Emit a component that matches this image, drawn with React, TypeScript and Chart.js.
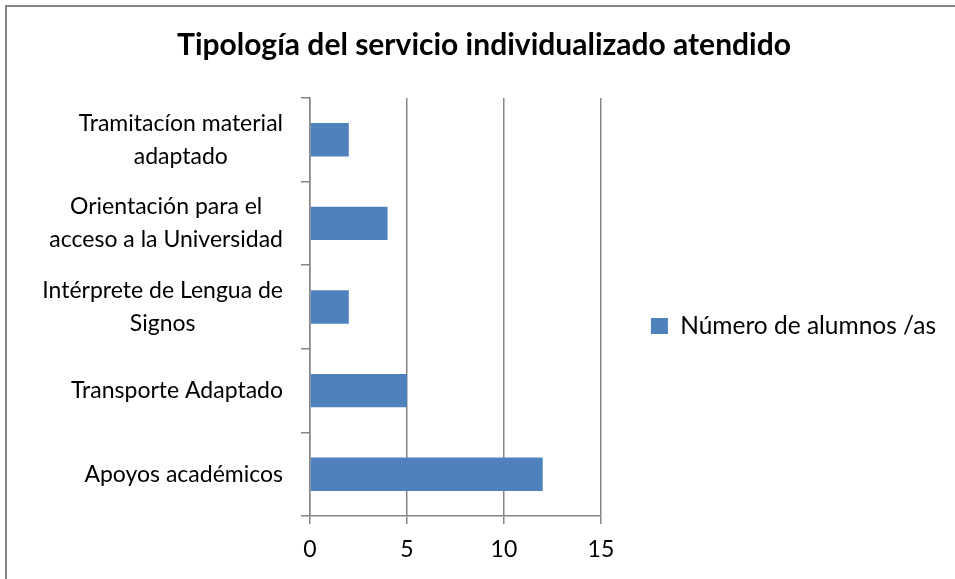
import React, { useEffect, useRef } from 'react';
import { Chart, registerables } from 'chart.js';

Chart.register(...registerables);

const chartTitle = 'Tipología del servicio individualizado atendido';
const seriesName = 'Número de alumnos /as';
const categories: string[][] = [
  ['Tramitacíon material', 'adaptado'],
  ['Orientación para el', 'acceso a la Universidad'],
  ['Intérprete de Lengua de', 'Signos'],
  ['Transporte Adaptado'],
  ['Apoyos académicos'],
];
const values: number[] = [2, 4, 2, 5, 12];
const xMin = 0;
const xMax = 15;
const xStep = 5;

const FONT = 'Lato';
const LABEL_SIZE = 23;
const LEGEND_SIZE = 24.5;
const LINE_H = 33;
const GRID = '#868686';
const PAD_RIGHT = 9;
const PAD_LEFT = 13 + PAD_RIGHT;

const yLabelPlugin = {
  id: 'yLabelsCentered',
  afterDraw(chart: any) {
    const s = chart.scales.y;
    const ctx = chart.ctx;
    ctx.save();
    ctx.font = `${LABEL_SIZE}px ${FONT}`;
    ctx.fillStyle = '#000';
    ctx.textBaseline = 'middle';
    ctx.textAlign = 'center';
    const right = s.right - 27;
    const labels = chart.data.labels as string[][];
    labels.forEach((lines, i) => {
      const w = Math.max(...lines.map((l) => ctx.measureText(l).width));
      const cx = right - w / 2;
      const cy = s.getPixelForTick(i);
      lines.forEach((l, j) => {
        ctx.fillText(l, cx, cy + (j - (lines.length - 1) / 2) * LINE_H);
      });
    });
    ctx.restore();
  },
};

export default function App() {
  const ref = useRef<HTMLCanvasElement | null>(null);
  useEffect(() => {
    if (!ref.current) return;
    const chart = new Chart(ref.current, {
      type: 'bar',
      data: {
        labels: categories,
        datasets: [
          {
            label: seriesName,
            data: values,
            backgroundColor: '#4F81BD',
            borderWidth: 0,
            barPercentage: 0.4,
            categoryPercentage: 1.0,
          },
        ],
      },
      options: {
        indexAxis: 'y',
        animation: false,
        responsive: true,
        maintainAspectRatio: false,
        layout: { padding: { left: PAD_LEFT, right: PAD_RIGHT, top: 0, bottom: 0 } },
        scales: {
          x: {
            type: 'linear',
            min: xMin,
            max: xMax,
            ticks: {
              stepSize: xStep,
              color: '#000',
              font: { family: FONT, size: LABEL_SIZE },
              padding: 12,
            },
            grid: { color: GRID, lineWidth: 1.5, tickLength: 8, drawTicks: true },
            border: { color: GRID, width: 1.5 },
            afterFit: (scale: any) => {
              scale.height = 63;
            },
          },
          y: {
            type: 'category',
            offset: true,
            ticks: { display: false },
            grid: {
              offset: true,
              drawOnChartArea: false,
              drawTicks: true,
              tickLength: 9,
              color: GRID,
              lineWidth: 1.5,
            },
            border: { color: GRID, width: 1.5 },
            afterFit: (scale: any) => {
              scale.width = 310 - PAD_LEFT;
            },
          },
        },
        plugins: {
          title: {
            display: true,
            text: chartTitle,
            color: '#000',
            font: { family: FONT, size: 30, weight: 'bold' },
            padding: { top: 27, bottom: 35 },
          },
          legend: {
            display: true,
            position: 'right',
            maxWidth: 500,
            title: { display: true, text: ' ', padding: { top: 61, bottom: 0 }, font: { size: 10 } },
            labels: {
              boxWidth: 17,
              boxHeight: 16,
              padding: 50,
              color: '#000',
              font: { family: FONT, size: LEGEND_SIZE },
            },
          },
          tooltip: { enabled: false },
        },
      },
      plugins: [yLabelPlugin],
    });
    return () => chart.destroy();
  }, []);

  return (
    <div style={{ position: 'absolute', left: 0, top: 0, width: 955, height: 579, overflow: 'hidden', background: '#fff' }}>
      <div
        style={{
          position: 'absolute',
          left: 5,
          top: 5,
          width: 1000,
          height: 1000,
          borderLeft: `2px solid ${GRID}`,
          borderTop: `2px solid ${GRID}`,
        }}
      />
      <canvas ref={ref} style={{ position: 'absolute', left: 0, top: 0 }} />
    </div>
  );
}
